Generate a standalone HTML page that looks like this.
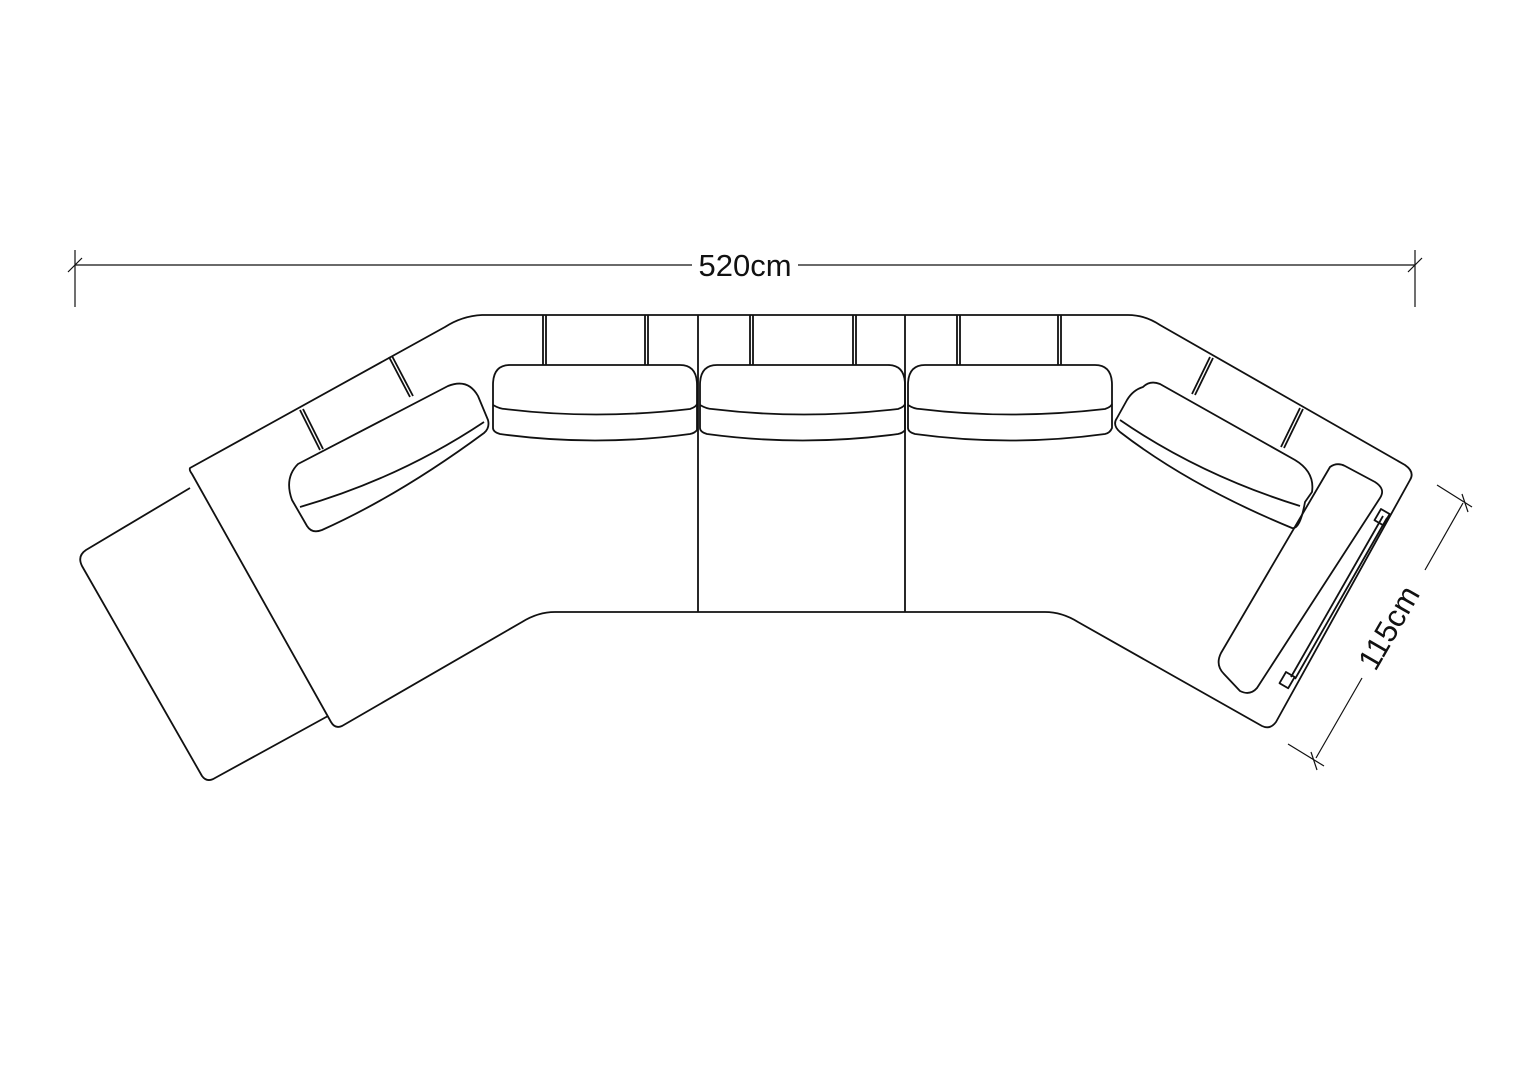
<!DOCTYPE html>
<html><head><meta charset="utf-8"><style>
html,body{margin:0;padding:0;background:#fff;}
svg{display:block}
text{font-family:"Liberation Sans",sans-serif;fill:#111}
</style></head><body>
<svg width="1528" height="1080" viewBox="0 0 1528 1080" xmlns="http://www.w3.org/2000/svg">
<g fill="none" stroke="#111" stroke-width="1.8" stroke-linejoin="round">
<line x1="75" y1="265" x2="692" y2="265" stroke-width="1.2"/>
<line x1="798" y1="265" x2="1415" y2="265" stroke-width="1.2"/>
<line x1="75" y1="250" x2="75" y2="307" stroke-width="1.2"/>
<line x1="1415" y1="250" x2="1415" y2="307" stroke-width="1.2"/>
<line x1="68" y1="272" x2="82" y2="258" stroke-width="1.2"/>
<line x1="1408" y1="272" x2="1422" y2="258" stroke-width="1.2"/>
<line x1="1463" y1="503" x2="1425" y2="570" stroke-width="1.2"/>
<line x1="1362" y1="678" x2="1316" y2="758" stroke-width="1.2"/>
<line x1="1437" y1="485" x2="1472" y2="507" stroke-width="1.2"/>
<line x1="1288" y1="744" x2="1324" y2="766" stroke-width="1.2"/>
<line x1="1462" y1="494" x2="1468" y2="512" stroke-width="1.2"/>
<line x1="1311" y1="752" x2="1317" y2="770" stroke-width="1.2"/>

<path d="M190,468 L445,327 Q462,316 482,315 L1128,315 Q1145,315 1160,325 L1405,465 Q1415,472 1410,480 L1276,722 Q1270,730 1262,726 L1078,622 Q1062,612 1045,612 L555,612 Q538,612 522,622 L342,726 Q335,729 331,722 L192,474 Q189,470 190,468 Z"/>
<path d="M190,488 L86,550 Q77,556 82,566 L202,776 Q207,783 215,778 L328,716"/>
<line x1="543" y1="315" x2="543" y2="365"/><line x1="546" y1="315" x2="546" y2="365"/>
<line x1="645" y1="315" x2="645" y2="365"/><line x1="648" y1="315" x2="648" y2="365"/>
<line x1="750" y1="315" x2="750" y2="365"/><line x1="753" y1="315" x2="753" y2="365"/>
<line x1="853" y1="315" x2="853" y2="365"/><line x1="856" y1="315" x2="856" y2="365"/>
<line x1="957" y1="315" x2="957" y2="365"/><line x1="960" y1="315" x2="960" y2="365"/>
<line x1="1058" y1="315" x2="1058" y2="365"/><line x1="1061" y1="315" x2="1061" y2="365"/>
<line x1="698" y1="315" x2="698" y2="612"/>
<line x1="905" y1="315" x2="905" y2="612"/>
<line x1="300" y1="410" x2="320" y2="450"/><line x1="303" y1="409" x2="323" y2="449"/>
<line x1="389" y1="357" x2="410" y2="397"/><line x1="392" y1="356" x2="413" y2="396"/>
<line x1="1210" y1="357" x2="1192" y2="394"/><line x1="1213" y1="358" x2="1195" y2="395"/>
<line x1="1300" y1="408" x2="1281" y2="447"/><line x1="1303" y1="409" x2="1284" y2="448"/>
<path d="M510,365 L680,365 Q697,365 697,385 L697,430 Q695,433 690,434 Q595,447 500,434 Q493,432 493,428 L493,385 Q493,365 510,365 Z"/>
<path d="M493,405 Q500,409 505,409 Q595,420 690,409 Q696,407 697,404"/>
<path d="M717,365 L888,365 Q905,365 905,385 L905,430 Q903,433 898,434 Q803,447 707,434 Q700,432 700,428 L700,385 Q700,365 717,365 Z"/>
<path d="M700,405 Q707,409 712,409 Q803,420 898,409 Q904,407 905,404"/>
<path d="M925,365 L1095,365 Q1112,365 1112,385 L1112,428 Q1110,433 1105,434 Q1010,447 915,434 Q908,432 908,428 L908,385 Q908,365 925,365 Z"/>
<path d="M908,405 Q914,409 920,409 Q1010,420 1105,409 Q1111,407 1112,404"/>
<path d="M298,464 L448,386 Q468,378 478,396 L488,420 Q490,428 484,433 Q400,495 322,530 Q312,534 307,526 L292,500 Q284,478 298,464 Z"/>
<path d="M300,507 Q400,478 484,422"/>
<path d="M1143,387 Q1150,380 1160,384 L1295,460 Q1315,472 1312,492 L1305,502 Q1300,530 1292,528 Q1190,486 1120,432 Q1112,425 1117,418 L1127,400 Q1133,390 1143,387 Z"/>
<path d="M1120,420 Q1200,475 1300,506"/>
<path d="M1330,467 Q1337,462 1345,466 L1375,482 Q1386,489 1380,498 L1257,688 Q1250,696 1240,691 L1224,674 Q1215,665 1221,653 Z"/>
<path d="M1383,516 L1291,677"/>
<path d="M1387,518 L1295,679"/>
<rect x="0" y="0" width="10" height="13" transform="translate(1381,509) rotate(30)"/>
<rect x="0" y="0" width="10" height="13" transform="translate(1286,672) rotate(30)"/>
</g>
<text x="745" y="276" font-size="31" text-anchor="middle">520cm</text>
<text x="0" y="0" font-size="31" text-anchor="middle" transform="translate(1398,633) rotate(-60)">115cm</text>
</svg>
</body></html>
